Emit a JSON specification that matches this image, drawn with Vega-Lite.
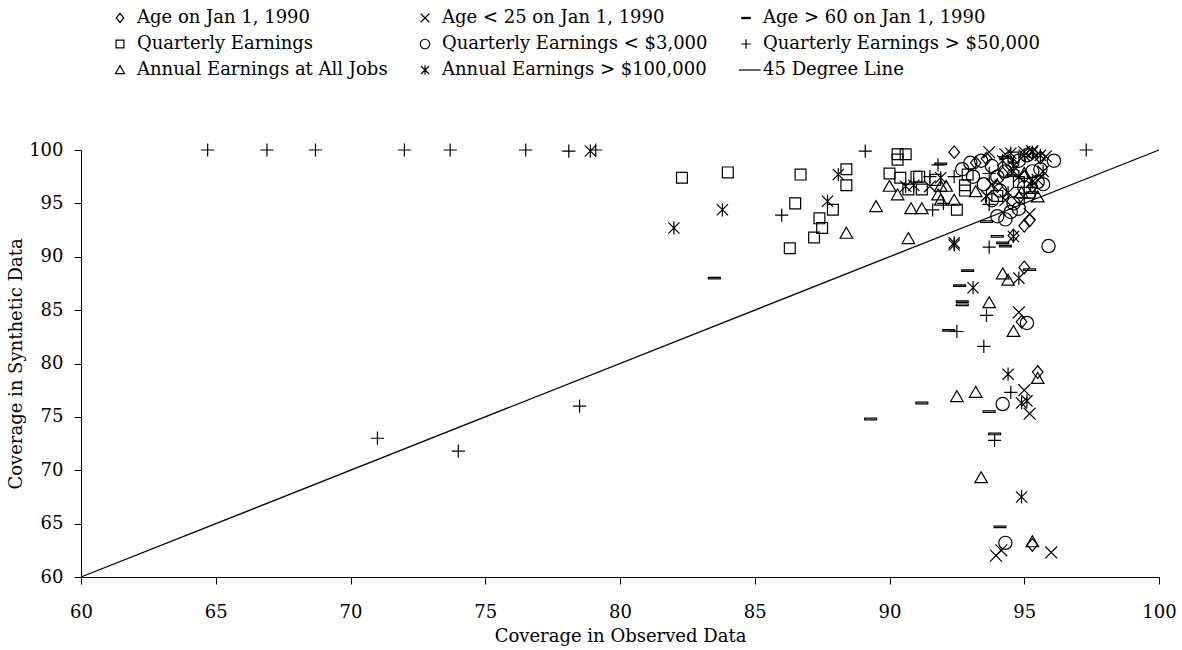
{
  "$schema": "https://vega.github.io/schema/vega-lite/v6.json",
  "width": 1078,
  "height": 427,
  "autosize": {"type": "none"},
  "padding": {"left": 81, "top": 150, "right": 23, "bottom": 73},
  "background": "white",
  "config": {
    "view": {"stroke": null},
    "font": "DejaVu Serif",
    "axis": {"labelFont": "DejaVu Serif", "titleFont": "DejaVu Serif", "labelColor": "black", "titleColor": "black", "domainColor": "black", "tickColor": "black", "labelFontSize": 18, "titleFontSize": 18, "titleFontWeight": "normal", "grid": false, "tickSize": 7, "labelFlush": false, "labelOverlap": false}
  },
  "datasets": {
    "pts": [
      {"s": "Age on Jan 1, 1990", "x": 92.4, "y": 99.8},
      {"s": "Age on Jan 1, 1990", "x": 93.2, "y": 98.8},
      {"s": "Age on Jan 1, 1990", "x": 94.2, "y": 97.8},
      {"s": "Age on Jan 1, 1990", "x": 94.6, "y": 98.6},
      {"s": "Age on Jan 1, 1990", "x": 95.0, "y": 97.5},
      {"s": "Age on Jan 1, 1990", "x": 95.3, "y": 96.6},
      {"s": "Age on Jan 1, 1990", "x": 94.8, "y": 95.5},
      {"s": "Age on Jan 1, 1990", "x": 95.2, "y": 93.4},
      {"s": "Age on Jan 1, 1990", "x": 95.0, "y": 92.9},
      {"s": "Age on Jan 1, 1990", "x": 94.6, "y": 92.0},
      {"s": "Age on Jan 1, 1990", "x": 95.0, "y": 89.0},
      {"s": "Age on Jan 1, 1990", "x": 94.9, "y": 83.9},
      {"s": "Age on Jan 1, 1990", "x": 95.5, "y": 79.2},
      {"s": "Age on Jan 1, 1990", "x": 95.3, "y": 63.0},
      {"s": "Age on Jan 1, 1990", "x": 95.3, "y": 99.7},
      {"s": "Age on Jan 1, 1990", "x": 95.6, "y": 99.3},
      {"s": "Age on Jan 1, 1990", "x": 94.0, "y": 96.6},
      {"s": "Age on Jan 1, 1990", "x": 93.6, "y": 99.2},
      {"s": "Age < 25 on Jan 1, 1990", "x": 93.7, "y": 99.8},
      {"s": "Age < 25 on Jan 1, 1990", "x": 94.3, "y": 99.6},
      {"s": "Age < 25 on Jan 1, 1990", "x": 95.0, "y": 99.8},
      {"s": "Age < 25 on Jan 1, 1990", "x": 95.8, "y": 99.4},
      {"s": "Age < 25 on Jan 1, 1990", "x": 94.5, "y": 98.0},
      {"s": "Age < 25 on Jan 1, 1990", "x": 95.5, "y": 97.2},
      {"s": "Age < 25 on Jan 1, 1990", "x": 93.8, "y": 96.8},
      {"s": "Age < 25 on Jan 1, 1990", "x": 95.2, "y": 94.0},
      {"s": "Age < 25 on Jan 1, 1990", "x": 91.5, "y": 96.6},
      {"s": "Age < 25 on Jan 1, 1990", "x": 94.8, "y": 84.8},
      {"s": "Age < 25 on Jan 1, 1990", "x": 95.0, "y": 77.5},
      {"s": "Age < 25 on Jan 1, 1990", "x": 95.2, "y": 75.3},
      {"s": "Age < 25 on Jan 1, 1990", "x": 93.95, "y": 62.0},
      {"s": "Age < 25 on Jan 1, 1990", "x": 94.15, "y": 62.5},
      {"s": "Age < 25 on Jan 1, 1990", "x": 96.0, "y": 62.3},
      {"s": "Age < 25 on Jan 1, 1990", "x": 94.3, "y": 95.3},
      {"s": "Age < 25 on Jan 1, 1990", "x": 95.3, "y": 99.9},
      {"s": "Age > 60 on Jan 1, 1990", "x": 83.5, "y": 88.0},
      {"s": "Age > 60 on Jan 1, 1990", "x": 91.9, "y": 98.7},
      {"s": "Age > 60 on Jan 1, 1990", "x": 93.6, "y": 93.3},
      {"s": "Age > 60 on Jan 1, 1990", "x": 94.0, "y": 91.9},
      {"s": "Age > 60 on Jan 1, 1990", "x": 94.2, "y": 91.3},
      {"s": "Age > 60 on Jan 1, 1990", "x": 94.3, "y": 91.0},
      {"s": "Age > 60 on Jan 1, 1990", "x": 92.9, "y": 88.7},
      {"s": "Age > 60 on Jan 1, 1990", "x": 95.2, "y": 88.8},
      {"s": "Age > 60 on Jan 1, 1990", "x": 92.6, "y": 87.3},
      {"s": "Age > 60 on Jan 1, 1990", "x": 92.7, "y": 85.8},
      {"s": "Age > 60 on Jan 1, 1990", "x": 92.7, "y": 85.5},
      {"s": "Age > 60 on Jan 1, 1990", "x": 92.2, "y": 83.1},
      {"s": "Age > 60 on Jan 1, 1990", "x": 91.2, "y": 76.3},
      {"s": "Age > 60 on Jan 1, 1990", "x": 89.3, "y": 74.8},
      {"s": "Age > 60 on Jan 1, 1990", "x": 93.7, "y": 75.5},
      {"s": "Age > 60 on Jan 1, 1990", "x": 93.9, "y": 73.4},
      {"s": "Age > 60 on Jan 1, 1990", "x": 94.1, "y": 64.7},
      {"s": "Age > 60 on Jan 1, 1990", "x": 94.3, "y": 99.3},
      {"s": "Age > 60 on Jan 1, 1990", "x": 94.6, "y": 97.6},
      {"s": "Age > 60 on Jan 1, 1990", "x": 95.3, "y": 96.0},
      {"s": "Quarterly Earnings", "x": 82.3, "y": 97.4},
      {"s": "Quarterly Earnings", "x": 84.0, "y": 97.9},
      {"s": "Quarterly Earnings", "x": 86.7, "y": 97.7},
      {"s": "Quarterly Earnings", "x": 86.5, "y": 95.0},
      {"s": "Quarterly Earnings", "x": 86.3, "y": 90.8},
      {"s": "Quarterly Earnings", "x": 87.4, "y": 93.6},
      {"s": "Quarterly Earnings", "x": 87.5, "y": 92.7},
      {"s": "Quarterly Earnings", "x": 87.2, "y": 91.8},
      {"s": "Quarterly Earnings", "x": 87.9, "y": 94.4},
      {"s": "Quarterly Earnings", "x": 88.4, "y": 98.2},
      {"s": "Quarterly Earnings", "x": 88.4, "y": 96.7},
      {"s": "Quarterly Earnings", "x": 90.0, "y": 97.8},
      {"s": "Quarterly Earnings", "x": 90.3, "y": 99.6},
      {"s": "Quarterly Earnings", "x": 90.6, "y": 99.6},
      {"s": "Quarterly Earnings", "x": 90.3, "y": 99.1},
      {"s": "Quarterly Earnings", "x": 90.4, "y": 97.4},
      {"s": "Quarterly Earnings", "x": 90.7, "y": 96.3},
      {"s": "Quarterly Earnings", "x": 91.0, "y": 97.5},
      {"s": "Quarterly Earnings", "x": 91.1, "y": 97.5},
      {"s": "Quarterly Earnings", "x": 91.2, "y": 96.3},
      {"s": "Quarterly Earnings", "x": 91.7, "y": 97.2},
      {"s": "Quarterly Earnings", "x": 92.5, "y": 94.4},
      {"s": "Quarterly Earnings", "x": 92.8, "y": 96.7},
      {"s": "Quarterly Earnings", "x": 92.8, "y": 96.2},
      {"s": "Quarterly Earnings", "x": 92.9, "y": 97.7},
      {"s": "Quarterly Earnings", "x": 94.0, "y": 95.7},
      {"s": "Quarterly Earnings", "x": 94.8, "y": 97.0},
      {"s": "Quarterly Earnings", "x": 95.2, "y": 96.0},
      {"s": "Quarterly Earnings", "x": 94.6, "y": 99.3},
      {"s": "Quarterly Earnings < $3,000", "x": 93.4, "y": 99.0},
      {"s": "Quarterly Earnings < $3,000", "x": 93.8, "y": 98.5},
      {"s": "Quarterly Earnings < $3,000", "x": 94.3, "y": 98.0},
      {"s": "Quarterly Earnings < $3,000", "x": 93.0, "y": 98.8},
      {"s": "Quarterly Earnings < $3,000", "x": 94.0, "y": 97.5},
      {"s": "Quarterly Earnings < $3,000", "x": 93.5, "y": 96.8},
      {"s": "Quarterly Earnings < $3,000", "x": 94.1, "y": 96.2},
      {"s": "Quarterly Earnings < $3,000", "x": 93.8, "y": 95.3},
      {"s": "Quarterly Earnings < $3,000", "x": 94.6, "y": 95.0},
      {"s": "Quarterly Earnings < $3,000", "x": 95.0, "y": 96.5},
      {"s": "Quarterly Earnings < $3,000", "x": 95.5, "y": 97.0},
      {"s": "Quarterly Earnings < $3,000", "x": 95.7, "y": 96.8},
      {"s": "Quarterly Earnings < $3,000", "x": 96.1, "y": 99.0},
      {"s": "Quarterly Earnings < $3,000", "x": 95.3, "y": 98.0},
      {"s": "Quarterly Earnings < $3,000", "x": 95.6, "y": 98.2},
      {"s": "Quarterly Earnings < $3,000", "x": 94.0, "y": 93.8},
      {"s": "Quarterly Earnings < $3,000", "x": 94.5, "y": 94.2},
      {"s": "Quarterly Earnings < $3,000", "x": 94.3, "y": 93.5},
      {"s": "Quarterly Earnings < $3,000", "x": 95.9, "y": 91.0},
      {"s": "Quarterly Earnings < $3,000", "x": 95.1, "y": 83.8},
      {"s": "Quarterly Earnings < $3,000", "x": 94.2, "y": 76.2},
      {"s": "Quarterly Earnings < $3,000", "x": 94.3, "y": 63.2},
      {"s": "Quarterly Earnings < $3,000", "x": 93.1, "y": 97.5},
      {"s": "Quarterly Earnings < $3,000", "x": 94.8, "y": 99.0},
      {"s": "Quarterly Earnings < $3,000", "x": 95.1, "y": 99.5},
      {"s": "Quarterly Earnings < $3,000", "x": 92.7, "y": 98.2},
      {"s": "Quarterly Earnings < $3,000", "x": 94.8, "y": 94.5},
      {"s": "Quarterly Earnings > $50,000", "x": 64.7, "y": 100.0},
      {"s": "Quarterly Earnings > $50,000", "x": 66.9, "y": 100.0},
      {"s": "Quarterly Earnings > $50,000", "x": 68.7, "y": 100.0},
      {"s": "Quarterly Earnings > $50,000", "x": 72.0, "y": 100.0},
      {"s": "Quarterly Earnings > $50,000", "x": 73.7, "y": 100.0},
      {"s": "Quarterly Earnings > $50,000", "x": 76.5, "y": 100.0},
      {"s": "Quarterly Earnings > $50,000", "x": 78.1, "y": 99.9},
      {"s": "Quarterly Earnings > $50,000", "x": 79.1, "y": 100.0},
      {"s": "Quarterly Earnings > $50,000", "x": 71.0, "y": 73.0},
      {"s": "Quarterly Earnings > $50,000", "x": 74.0, "y": 71.8},
      {"s": "Quarterly Earnings > $50,000", "x": 78.5, "y": 76.0},
      {"s": "Quarterly Earnings > $50,000", "x": 86.0, "y": 93.9},
      {"s": "Quarterly Earnings > $50,000", "x": 89.1, "y": 99.9},
      {"s": "Quarterly Earnings > $50,000", "x": 91.5, "y": 97.5},
      {"s": "Quarterly Earnings > $50,000", "x": 91.6, "y": 94.4},
      {"s": "Quarterly Earnings > $50,000", "x": 91.8, "y": 98.6},
      {"s": "Quarterly Earnings > $50,000", "x": 92.4, "y": 97.5},
      {"s": "Quarterly Earnings > $50,000", "x": 93.7, "y": 97.8},
      {"s": "Quarterly Earnings > $50,000", "x": 93.7, "y": 94.9},
      {"s": "Quarterly Earnings > $50,000", "x": 93.7, "y": 90.9},
      {"s": "Quarterly Earnings > $50,000", "x": 93.6, "y": 84.5},
      {"s": "Quarterly Earnings > $50,000", "x": 92.5, "y": 83.0},
      {"s": "Quarterly Earnings > $50,000", "x": 93.5, "y": 81.6},
      {"s": "Quarterly Earnings > $50,000", "x": 94.5, "y": 77.3},
      {"s": "Quarterly Earnings > $50,000", "x": 93.9, "y": 72.8},
      {"s": "Quarterly Earnings > $50,000", "x": 97.3, "y": 100.0},
      {"s": "Quarterly Earnings > $50,000", "x": 92.0, "y": 95.0},
      {"s": "Quarterly Earnings > $50,000", "x": 95.0, "y": 95.5},
      {"s": "Annual Earnings at All Jobs", "x": 88.4, "y": 92.2},
      {"s": "Annual Earnings at All Jobs", "x": 89.5, "y": 94.7},
      {"s": "Annual Earnings at All Jobs", "x": 90.0, "y": 96.6},
      {"s": "Annual Earnings at All Jobs", "x": 90.3, "y": 95.8},
      {"s": "Annual Earnings at All Jobs", "x": 90.7, "y": 91.7},
      {"s": "Annual Earnings at All Jobs", "x": 90.8, "y": 94.5},
      {"s": "Annual Earnings at All Jobs", "x": 91.2, "y": 94.5},
      {"s": "Annual Earnings at All Jobs", "x": 91.8, "y": 95.8},
      {"s": "Annual Earnings at All Jobs", "x": 91.9, "y": 96.6},
      {"s": "Annual Earnings at All Jobs", "x": 91.9, "y": 95.3},
      {"s": "Annual Earnings at All Jobs", "x": 92.1, "y": 96.6},
      {"s": "Annual Earnings at All Jobs", "x": 92.4, "y": 95.3},
      {"s": "Annual Earnings at All Jobs", "x": 93.2, "y": 96.1},
      {"s": "Annual Earnings at All Jobs", "x": 93.7, "y": 85.7},
      {"s": "Annual Earnings at All Jobs", "x": 94.2, "y": 88.4},
      {"s": "Annual Earnings at All Jobs", "x": 94.4, "y": 87.8},
      {"s": "Annual Earnings at All Jobs", "x": 94.6, "y": 83.0},
      {"s": "Annual Earnings at All Jobs", "x": 95.5, "y": 78.6},
      {"s": "Annual Earnings at All Jobs", "x": 92.5, "y": 76.9},
      {"s": "Annual Earnings at All Jobs", "x": 93.2, "y": 77.3},
      {"s": "Annual Earnings at All Jobs", "x": 93.4, "y": 69.3},
      {"s": "Annual Earnings at All Jobs", "x": 95.3, "y": 63.3},
      {"s": "Annual Earnings at All Jobs", "x": 95.5, "y": 95.6},
      {"s": "Annual Earnings at All Jobs", "x": 94.9, "y": 96.0},
      {"s": "Annual Earnings at All Jobs", "x": 95.0, "y": 97.8},
      {"s": "Annual Earnings > $100,000", "x": 78.9, "y": 99.9},
      {"s": "Annual Earnings > $100,000", "x": 82.0, "y": 92.7},
      {"s": "Annual Earnings > $100,000", "x": 83.8, "y": 94.4},
      {"s": "Annual Earnings > $100,000", "x": 87.7, "y": 95.2},
      {"s": "Annual Earnings > $100,000", "x": 88.1, "y": 97.7},
      {"s": "Annual Earnings > $100,000", "x": 90.6, "y": 96.6},
      {"s": "Annual Earnings > $100,000", "x": 90.9, "y": 96.7},
      {"s": "Annual Earnings > $100,000", "x": 91.9, "y": 97.4},
      {"s": "Annual Earnings > $100,000", "x": 93.6, "y": 95.7},
      {"s": "Annual Earnings > $100,000", "x": 92.4, "y": 91.1},
      {"s": "Annual Earnings > $100,000", "x": 92.4, "y": 91.3},
      {"s": "Annual Earnings > $100,000", "x": 94.6, "y": 91.9},
      {"s": "Annual Earnings > $100,000", "x": 93.1, "y": 87.1},
      {"s": "Annual Earnings > $100,000", "x": 94.8, "y": 88.0},
      {"s": "Annual Earnings > $100,000", "x": 94.4, "y": 79.0},
      {"s": "Annual Earnings > $100,000", "x": 94.9, "y": 76.3},
      {"s": "Annual Earnings > $100,000", "x": 95.1, "y": 76.5},
      {"s": "Annual Earnings > $100,000", "x": 94.9, "y": 67.5},
      {"s": "Annual Earnings > $100,000", "x": 94.5, "y": 99.7},
      {"s": "Annual Earnings > $100,000", "x": 95.0, "y": 99.5},
      {"s": "Annual Earnings > $100,000", "x": 95.3, "y": 99.8},
      {"s": "Annual Earnings > $100,000", "x": 94.6, "y": 98.5},
      {"s": "Annual Earnings > $100,000", "x": 94.8, "y": 97.5},
      {"s": "Annual Earnings > $100,000", "x": 95.3, "y": 97.0},
      {"s": "Annual Earnings > $100,000", "x": 94.4, "y": 96.0},
      {"s": "Annual Earnings > $100,000", "x": 95.6, "y": 99.5},
      {"s": "Annual Earnings > $100,000", "x": 94.2, "y": 99.0},
      {"s": "Annual Earnings > $100,000", "x": 95.7, "y": 98.0}
    ],
    "diag": [
      {"x": 60, "y": 60},
      {"x": 100, "y": 100}
    ]
  },
  "layer": [
    {
      "data": {"name": "diag"},
      "mark": {"type": "line", "color": "black", "strokeWidth": 1.3},
      "encoding": {
        "x": {"field": "x", "type": "quantitative"},
        "y": {"field": "y", "type": "quantitative"}
      }
    },
    {
      "data": {"name": "pts"},
      "mark": {"type": "point", "filled": false, "stroke": "black", "strokeWidth": 1.2, "size": 175, "opacity": 1},
      "encoding": {
        "x": {
          "field": "x", "type": "quantitative",
          "scale": {"domain": [60, 100], "nice": false, "zero": false},
          "axis": {"values": [60, 65, 70, 75, 80, 85, 90, 95, 100], "title": "Coverage in Observed Data", "labelPadding": 19, "titlePadding": 6}
        },
        "y": {
          "field": "y", "type": "quantitative",
          "scale": {"domain": [60, 100], "nice": false, "zero": false},
          "axis": {"values": [60, 65, 70, 75, 80, 85, 90, 95, 100], "title": "Coverage in Synthetic Data", "labelPadding": 11, "titlePadding": 3}
        },
        "shape": {
          "field": "s", "type": "nominal",
          "scale": {
            "domain": ["Age on Jan 1, 1990", "Age < 25 on Jan 1, 1990", "Age > 60 on Jan 1, 1990", "Quarterly Earnings", "Quarterly Earnings < $3,000", "Quarterly Earnings > $50,000", "Annual Earnings at All Jobs", "Annual Earnings > $100,000", "45 Degree Line"],
            "range": ["M0,-0.95L0.8,0L0,0.95L-0.8,0Z", "M-0.9,-0.9L0.9,0.9M-0.9,0.9L0.9,-0.9", "M-0.9,-0.12L0.9,-0.12L0.9,0.12L-0.9,0.12Z", "M-0.82,-0.82L0.82,-0.82L0.82,0.82L-0.82,0.82Z", "circle", "M-1,0L1,0M0,-1L0,1", "M0,-0.9L0.95,0.75L-0.95,0.75Z", "M-0.85,-0.85L0.85,0.85M-0.85,0.85L0.85,-0.85M0,-1L0,1", "M-1.5,0L3.1,0"]
          },
          "legend": {
            "title": null,
            "orient": "none",
            "legendX": 30,
            "legendY": -141,
            "direction": "horizontal",
            "columns": 3,
            "columnPadding": 28,
            "rowPadding": 8,
            "symbolSize": 90,
            "symbolStrokeWidth": 1.2,
            "symbolStrokeColor": "black",
            "symbolFillColor": "transparent",
            "labelFont": "DejaVu Serif",
            "labelFontSize": 18,
            "labelColor": "black",
            "labelOffset": 8,
            "labelLimit": 400
          }
        }
      }
    }
  ]
}
